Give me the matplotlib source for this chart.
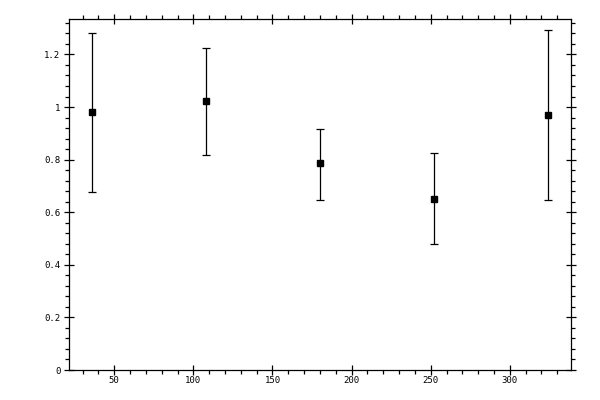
import numpy as np
import matplotlib
matplotlib.use("Agg")
import matplotlib.pyplot as plt
from matplotlib.ticker import MultipleLocator, FuncFormatter

x = [36, 108, 180, 252, 324]
y = [0.980, 1.023, 0.786, 0.652, 0.968]
y_hi = [1.281, 1.224, 0.917, 0.824, 1.292]
y_lo = [0.675, 0.816, 0.648, 0.481, 0.645]

y = np.array(y)
err = [y - np.array(y_lo), np.array(y_hi) - y]

plt.rcParams['font.family'] = ['DejaVu Sans Mono']
plt.rcParams['font.size'] = 6.5

fig = plt.figure(figsize=(6, 4), dpi=100)
ax = fig.add_axes([0.1155, 0.075, 0.8355, 0.877])

ax.errorbar(x, y, yerr=err, fmt='s', color='black', ms=5, mec='black',
            elinewidth=0.9, capsize=3, capthick=0.9)

ax.set_xlim(21.6, 338.4)
ax.set_ylim(0, 1.334)

ax.xaxis.set_major_locator(MultipleLocator(50))
ax.xaxis.set_minor_locator(MultipleLocator(10))
ax.yaxis.set_major_locator(MultipleLocator(0.2))
ax.yaxis.set_minor_locator(MultipleLocator(0.04))
ax.yaxis.set_major_formatter(FuncFormatter(lambda v, p: "%g" % round(v, 2)))

ax.tick_params(which='major', direction='inout', length=7, width=0.9,
               top=True, right=True, labeltop=False, labelright=False, pad=3)
ax.tick_params(which='minor', direction='out', length=3, width=0.9,
               top=True, right=True)
ax.tick_params(axis='x', which='major', pad=1)
for s in ax.spines.values():
    s.set_linewidth(0.9)

fig.savefig("out.png", dpi=100)
